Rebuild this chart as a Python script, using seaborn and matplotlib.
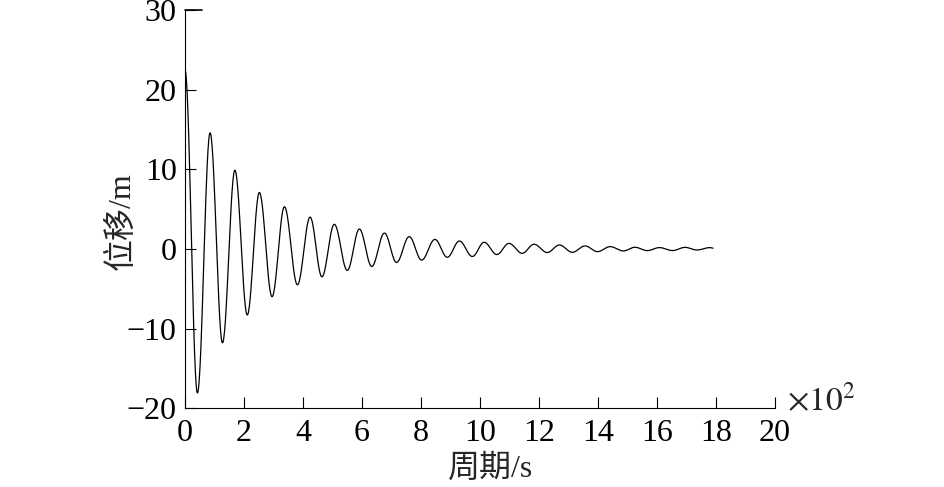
import numpy as np
import pandas as pd
import seaborn as sns
import matplotlib
import matplotlib.pyplot as plt

matplotlib.use("Agg")

# turning points (time in 10^2 s, displacement in m)
turn_times = [0.0, 0.42, 0.85, 1.27, 1.69, 2.11, 2.52, 2.95, 3.37, 3.81,
              4.24, 4.64, 5.06, 5.50, 5.91, 6.33, 6.76, 7.17, 7.60, 8.02,
              8.47, 8.89, 9.30, 9.74, 10.14, 10.57, 10.98, 11.43, 11.83, 12.28,
              12.69, 13.13, 13.56, 13.98, 14.41, 14.86, 15.25, 15.67, 16.08, 16.53,
              16.95, 17.35, 17.80, 17.90]
turn_values = [22.5, -18.1, 14.6, -11.8, 9.9, -8.3, 7.1, -6.0, 5.3, -4.5,
               4.0, -3.5, 3.1, -2.7, 2.5, -2.2, 2.0, -1.7, 1.55, -1.4,
               1.2, -1.05, 1.0, -0.95, 0.84, -0.7, 0.7, -0.55, 0.59, -0.45,
               0.5, -0.42, 0.38, -0.34, 0.29, -0.25, 0.21, -0.21, 0.17, -0.2,
               0.2, -0.13, 0.17, 0.1]

x_ticks = [0, 2, 4, 6, 8, 10, 12, 14, 16, 18, 20]
y_ticks = [-20, -10, 0, 10, 20, 30]
x_label = "周期/s"
y_label = "位移/m"


def smooth_between_turns(times, values, n=30):
    """half-cosine shape between consecutive turning points"""
    xs, ys = [], []
    for i in range(len(times) - 1):
        s = np.linspace(0, 1, n, endpoint=False)
        xs.append(times[i] + s * (times[i + 1] - times[i]))
        ys.append(values[i] + (values[i + 1] - values[i]) * (1 - np.cos(np.pi * s)) / 2)
    xs.append([times[-1]])
    ys.append([values[-1]])
    return pd.DataFrame({"t": np.concatenate(xs), "d": np.concatenate(ys)})


sns.set_style("ticks")
plt.rcParams["font.family"] = ["Liberation Serif", "Noto Sans CJK SC"]
plt.rcParams["font.size"] = 23
plt.rcParams["mathtext.fontset"] = "stix"

fig = plt.figure(figsize=(9.44, 4.87), dpi=100)
ax = fig.add_axes([0.196, 0.162, 0.625, 0.817])

curve = smooth_between_turns(turn_times, turn_values)
sns.lineplot(data=curve, x="t", y="d", ax=ax, color="black", linewidth=0.9,
             sort=False, estimator=None)

ax.set_xlim(0, 20)
ax.set_ylim(-20, 30)
ax.set_xticks(x_ticks)
ax.set_yticks(y_ticks)
ax.set_xticklabels([str(v) for v in x_ticks])
ax.set_yticklabels([str(v).replace("-", "\u2212") for v in y_ticks])
ax.tick_params(direction="in", length=8, width=0.8, color="black",
               labelsize=23, labelcolor="black")
ax.tick_params(axis="x", pad=8)
ax.tick_params(axis="y", pad=6)

for side in ["top", "right"]:
    ax.spines[side].set_visible(False)
for side in ["left", "bottom"]:
    ax.spines[side].set_linewidth(0.8)
    ax.spines[side].set_color("black")

# short extra mark at the top of the y axis
ax.axhline(30, xmin=0, xmax=0.028, color="black", linewidth=1.2, clip_on=False)

ax.set_xlabel(x_label, fontsize=23, labelpad=2)
ax.xaxis.set_label_coords(0.517, -0.115)
ax.set_ylabel(y_label, fontsize=23)
ax.yaxis.set_label_coords(-0.082, 0.47)
ax.text(1.02, -0.005, r"$\times10^{2}$", transform=ax.transAxes, fontsize=24,
        ha="left", va="baseline")

ax.grid(False)
fig.savefig("out.png", dpi=100, facecolor="white")
